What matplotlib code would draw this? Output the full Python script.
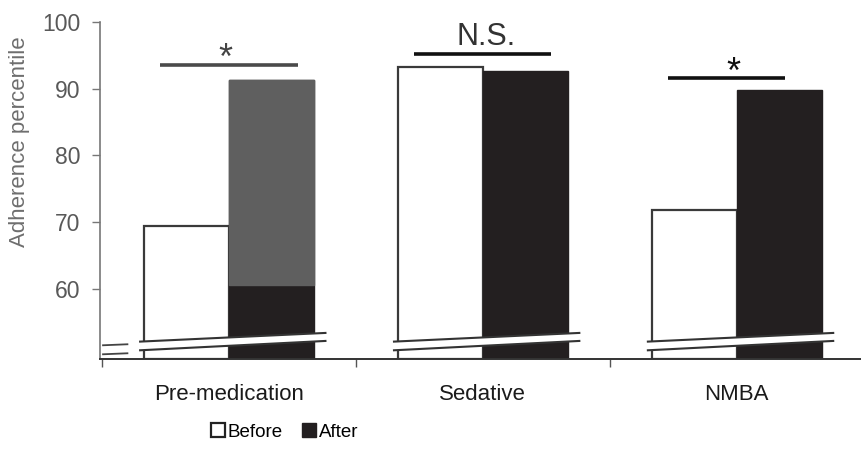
import matplotlib
matplotlib.use("Agg")
import matplotlib.pyplot as plt
from matplotlib.patches import Polygon, Patch
import numpy as np

plt.rcParams['font.family'] = ['Liberation Sans', 'DejaVu Sans']

categories = ["Pre-medication", "Sedative", "NMBA"]
before = [69.4, 93.3, 71.8]
after = [91.3, 92.7, 89.8]
sig_labels = ["*", "N.S.", "*"]
sig_levels = [93.6, 95.2, 91.6]
yticks = [60, 70, 80, 90, 100]

fig = plt.figure(figsize=(8.62, 4.68), dpi=100)
ax = fig.add_axes([0.116, 0.233, 0.883, 0.72])
ymin, ymax = 49.5, 100
ax.set_ylim(ymin, ymax)
ax.set_xlim(-0.508, 2.49)

x = np.arange(len(categories))
w = 0.335
dark = "#231f20"
ax.bar(x - w / 2, np.array(before) - ymin, bottom=ymin, width=w,
       facecolor="white", edgecolor="#3a3a3a", linewidth=1.6, zorder=2)
ax.bar(x + w / 2, np.array(after) - ymin, bottom=ymin, width=w,
       facecolor=dark, edgecolor=dark, linewidth=1.0, zorder=2)
# upper part of the first "after" bar appears grey in the reference
ax.bar(x[0] + w / 2, after[0] - 60.6, bottom=60.6, width=w,
       facecolor="#5f5f5f", edgecolor="#5f5f5f", linewidth=1.0, zorder=2.1)

# significance bars
for i, (lab, lev) in enumerate(zip(sig_labels, sig_levels)):
    x0 = x[i] - 0.27
    x1 = x[i] + 0.27
    if i == 2:
        x1 = x[i] + 0.19
    col = "#4a4a4a" if i == 0 else "#111111"
    ax.plot([x0, x1], [lev, lev], color=col, lw=2.6, solid_capstyle="butt", zorder=3)
    if lab == "*":
        ax.text(x[i] - 0.015, lev - 1.9, "*", ha="center", va="bottom",
                fontsize=26, color="#444444" if i == 0 else "#111111")
    else:
        ax.text(x[i] + 0.012, lev + 0.3, lab, ha="center", va="bottom",
                fontsize=22, color="#333333")

# axis break bands
for i in range(len(categories)):
    xl = x[i] - 0.35
    xr = x[i] + 0.38
    top_l, top_r = 52.1, 53.4
    bot_l, bot_r = 50.8, 52.2
    poly = Polygon([[xl, bot_l], [xr, bot_r], [xr, top_r], [xl, top_l]],
                   closed=True, facecolor="white", edgecolor="none", zorder=4)
    ax.add_patch(poly)
    ax.plot([xl, xr], [top_l, top_r], color="#333333", lw=1.5, zorder=5)
    ax.plot([xl, xr], [bot_l, bot_r], color="#333333", lw=1.5, zorder=5)
# break on y axis
ax.plot([-0.496, -0.40], [51.55, 51.7], color="#444444", lw=1.3, clip_on=False, zorder=5)
ax.plot([-0.496, -0.40], [50.2, 50.35], color="#444444", lw=1.3, clip_on=False, zorder=5)

# axes styling
for s in ["top", "right"]:
    ax.spines[s].set_visible(False)
ax.spines["left"].set_color("#777777")
ax.spines["left"].set_linewidth(1.2)
ax.spines["bottom"].set_color("#333333")
ax.spines["bottom"].set_linewidth(1.4)
ax.set_yticks(yticks)
ax.set_yticklabels([str(t) for t in yticks])
ax.tick_params(axis="y", direction="out", length=6, width=1.0, color="#777777",
               labelsize=16.5, labelcolor="#595959", pad=8)
ax.set_xticks(x)
ax.set_xticklabels(categories)
ax.tick_params(axis="x", length=0, labelsize=16, labelcolor="#1a1a1a", pad=18)
ax.set_xticks([x[0] - 0.5, 0.5, 1.5], minor=True)
ax.tick_params(axis="x", which="minor", direction="out", length=6, width=1.0, color="#555555")
ax.set_ylabel("Adherence percentile", fontsize=16, color="#6e6e6e")
ax.yaxis.set_label_coords(-0.092, 0.645)

handles = [Patch(facecolor="white", edgecolor="#222222", linewidth=1.6, label="Before"),
           Patch(facecolor=dark, edgecolor=dark, label="After")]
fig.legend(handles=handles, loc="center", bbox_to_anchor=(0.33, 0.077), ncol=2,
           frameon=False, fontsize=13.5, handlelength=0.75, handleheight=0.75,
           handletextpad=0.15, columnspacing=1.0)

fig.savefig("out.png", dpi=100)
